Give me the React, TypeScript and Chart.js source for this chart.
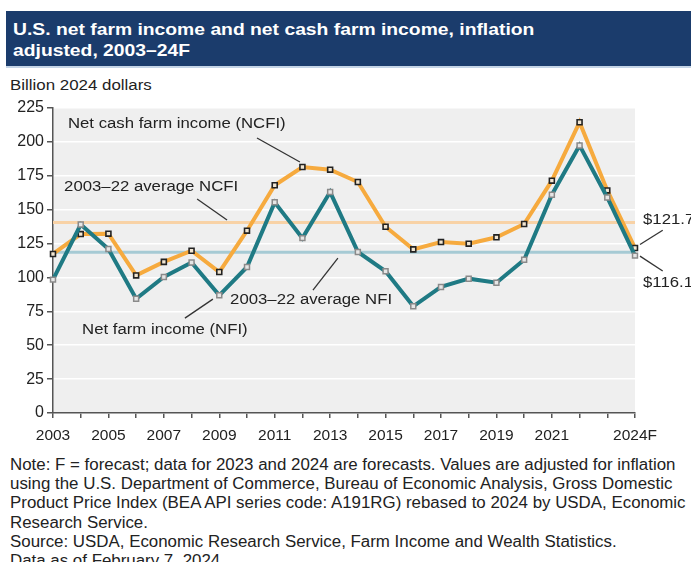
import React, { useEffect, useRef } from 'react';
import { Chart, registerables } from 'chart.js';

Chart.register(...registerables);

// ---------- data ----------
const years = [
  '2003', '2004', '2005', '2006', '2007', '2008', '2009', '2010', '2011', '2012', '2013',
  '2014', '2015', '2016', '2017', '2018', '2019', '2020', '2021', '2022', '2023', '2024',
];
const xTickLabels = [
  '2003', '', '2005', '', '2007', '', '2009', '', '2011', '', '2013',
  '', '2015', '', '2017', '', '2019', '', '2021', '', '', '2024F',
];
const ncfi = [
  117.3, 132, 132.3, 101.5, 111.5, 119.7, 104, 134.5, 168, 181.5, 179.5,
  170.4, 137.4, 120.7, 126.1, 124.9, 129.6, 139.4, 171.4, 214.5, 164.2, 121.7,
];
const nfi = [
  98.4, 139, 121, 84.3, 100.3, 111, 86.8, 107.7, 155.4, 129, 163,
  118.8, 104.5, 78.7, 93, 99.1, 96.1, 113.1, 161, 197.4, 159, 116.1,
];
const avgNcfi = 140.6;
const avgNfi = 118.5;
const yTicks = [0, 25, 50, 75, 100, 125, 150, 175, 200, 225];

// annotation texts anchored in data space (x = year index, y = value)
const labelTexts = [
  { text: 'Net cash farm income (NCFI)', x: 0.54, y: 213.2 },
  { text: '2003\u201322 average NCFI', x: 0.4, y: 166.7 },
  { text: '2003\u201322 average NFI', x: 6.39, y: 83.4 },
  { text: 'Net farm income (NFI)', x: 1.05, y: 61.2 },
  { text: '$121.7', x: 21.29, y: 142.4 },
  { text: '$116.1', x: 21.29, y: 96.0 },
];
const leaderLines = [
  [7.36, 202.9, 8.91, 185.2],
  [5.2, 157.9, 6.28, 142.4],
  [9.38, 90.7, 10.28, 114.3],
  [4.76, 70, 5.77, 84],
  [21.18, 124.3, 22.0, 134.8],
  [21.18, 115.7, 22.0, 104.7],
];

const FONT = '"Liberation Sans", Arial, Helvetica, sans-serif';

const plotBg = {
  id: 'plotBg',
  beforeDraw(chart: any) {
    const { ctx, chartArea } = chart;
    ctx.save();
    ctx.fillStyle = '#efefef';
    ctx.fillRect(chartArea.left, chartArea.top, chartArea.right - chartArea.left, chartArea.bottom - chartArea.top);
    ctx.restore();
  },
};

const annotations = {
  id: 'annotations',
  afterDraw(chart: any) {
    const { ctx } = chart;
    const xs = chart.scales.x;
    const ys = chart.scales.y;
    ctx.save();
    ctx.strokeStyle = '#333333';
    ctx.lineWidth = 1.3;
    leaderLines.forEach(([x1, y1, x2, y2]) => {
      ctx.beginPath();
      ctx.moveTo(xs.getPixelForValue(x1), ys.getPixelForValue(y1));
      ctx.lineTo(xs.getPixelForValue(x2), ys.getPixelForValue(y2));
      ctx.stroke();
    });
    ctx.fillStyle = '#222222';
    ctx.font = `15.5px ${FONT}`;
    ctx.textAlign = 'left';
    ctx.textBaseline = 'middle';
    labelTexts.forEach((l) => {
      ctx.save();
      ctx.translate(xs.getPixelForValue(l.x), ys.getPixelForValue(l.y));
      ctx.scale(1.08, 1);
      ctx.fillText(l.text, 0, 0);
      ctx.restore();
    });
    ctx.restore();
  },
};

function FarmChart() {
  const ref = useRef<HTMLCanvasElement | null>(null);
  useEffect(() => {
    if (!ref.current) return;
    const chart = new Chart(ref.current, {
      type: 'line',
      data: {
        labels: years,
        datasets: [
          {
            label: 'Net farm income (NFI)',
            data: nfi,
            borderColor: '#1f7a84',
            borderWidth: 4,
            pointStyle: 'rect',
            pointRadius: 3.5,
            pointBorderWidth: 1.5,
            pointBorderColor: '#8a8a8a',
            pointBackgroundColor: '#e6e6e6',
            tension: 0,
            order: 0,
          },
          {
            label: 'Net cash farm income (NCFI)',
            data: ncfi,
            borderColor: '#f6aa3e',
            borderWidth: 4,
            pointStyle: 'rect',
            pointRadius: 3.5,
            pointBorderWidth: 1.6,
            pointBorderColor: '#222222',
            pointBackgroundColor: '#f2e6d2',
            tension: 0,
            order: 1,
          },
          {
            label: '2003–22 average NCFI',
            data: years.map(() => avgNcfi),
            borderColor: '#f8d2a6',
            borderWidth: 3,
            pointRadius: 0,
            order: 2,
          },
          {
            label: '2003–22 average NFI',
            data: years.map(() => avgNfi),
            borderColor: '#a6cad4',
            borderWidth: 3,
            pointRadius: 0,
            order: 3,
          },
        ],
      },
      options: {
        responsive: false,
        animation: false,
        layout: { padding: { top: 13, right: 56, left: 0, bottom: 0 } },
        plugins: { legend: { display: false }, tooltip: { enabled: false } },
        scales: {
          x: {
            offset: false,
            ticks: {
              autoSkip: false,
              maxRotation: 0,
              minRotation: 0,
              padding: 8,
              color: '#222',
              font: { family: FONT, size: 15.5 },
              callback: (_v: any, i: number) => xTickLabels[i],
            },
            grid: { drawOnChartArea: false, color: '#555', tickColor: '#555', tickLength: 5, lineWidth: 1.5 },
            border: { display: true, color: '#555', width: 1.5 },
            afterFit: (s: any) => { s.height = 37; },
          },
          y: {
            min: 0,
            max: 225,
            afterBuildTicks: (s: any) => { s.ticks = yTicks.map((v) => ({ value: v })); },
            ticks: { padding: 3, color: '#222', font: { family: FONT, size: 16 } },
            grid: { color: '#ffffff', lineWidth: 1.5, tickColor: '#555', tickLength: 6 },
            border: { display: true, color: '#555', width: 1.5 },
            afterFit: (s: any) => { s.width = 53; },
          },
        },
      },
      plugins: [plotBg, annotations],
    });
    return () => chart.destroy();
  }, []);
  return (
    <canvas
      ref={ref}
      width={691}
      height={355}
      style={{ position: 'absolute', left: 0, top: 95, width: 691, height: 355 }}
    />
  );
}

export default function App() {
  return (
    <div
      style={{
        position: 'fixed', left: 0, top: 0, width: 691, height: 562, background: '#fff',
        overflow: 'hidden', fontFamily: FONT, color: '#222',
      }}
    >
      <div
        style={{
          position: 'absolute', left: 6, top: 11, width: 685, height: 57, background: '#1b3c6c',
          borderBottom: '2px solid #c4d4e6', boxSizing: 'border-box',
        }}
      />
      <div
        style={{
          position: 'absolute', left: 13, top: 19, color: '#fff', fontWeight: 'bold', fontSize: 16.5,
          lineHeight: '21px', whiteSpace: 'nowrap', transform: 'scaleX(1.17)', transformOrigin: 'left top',
        }}
      >
        U.S. net farm income and net cash farm income, inflation
        <br />
        adjusted, 2003–24F
      </div>
      <div
        style={{
          position: 'absolute', left: 10, top: 76, fontSize: 15.5, whiteSpace: 'nowrap',
          transform: 'scaleX(1.09)', transformOrigin: 'left top',
        }}
      >
        Billion 2024 dollars
      </div>
      <FarmChart />
      <div
        style={{
          position: 'absolute', left: 10, top: 455, fontSize: 16, lineHeight: '19.2px', whiteSpace: 'nowrap',
          transform: 'scaleX(1.055)', transformOrigin: 'left top',
        }}
      >
        Note: F = forecast; data for 2023 and 2024 are forecasts. Values are adjusted for inflation
        <br />
        using the U.S. Department of Commerce, Bureau of Economic Analysis, Gross Domestic
        <br />
        Product Price Index (BEA API series code: A191RG) rebased to 2024 by USDA, Economic
        <br />
        Research Service.
        <br />
        Source: USDA, Economic Research Service, Farm Income and Wealth Statistics.
        <br />
        Data as of February 7, 2024.
      </div>
    </div>
  );
}
